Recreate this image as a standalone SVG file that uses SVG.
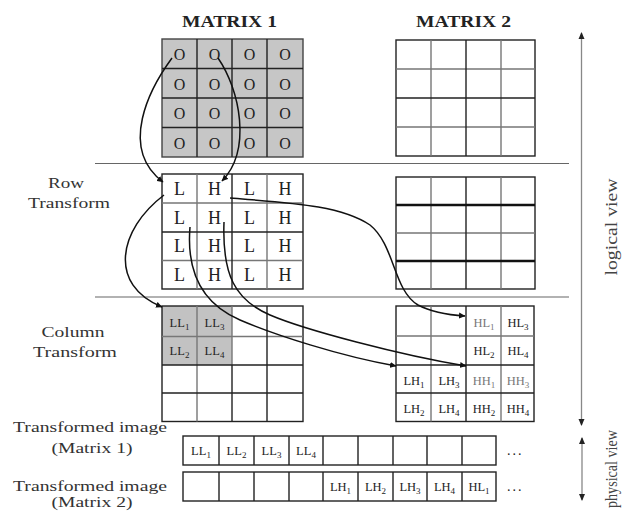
<svg xmlns="http://www.w3.org/2000/svg" width="625" height="511" viewBox="0 0 625 511">
<defs>
<marker id="ah" markerWidth="7" markerHeight="7" refX="6" refY="3.5" orient="auto" markerUnits="userSpaceOnUse"><path d="M0,0.5 L6.5,3.5 L0,6.5 z" fill="#111"/></marker>
<marker id="va" markerWidth="8" markerHeight="8" refX="6" refY="4" orient="auto-start-reverse" markerUnits="userSpaceOnUse"><path d="M0,1 L7,4 L0,7 z" fill="#222"/></marker>
<style>
text{font-family:"Liberation Serif","Times New Roman",serif;fill:#222}
.hd{font-weight:bold;font-size:16px}
.lb{font-size:15px;text-anchor:middle;fill:#333}
.big{font-size:18px;text-anchor:middle}
.o{font-size:16px;text-anchor:middle}
.sm{font-size:12.5px;text-anchor:middle}
.gr{fill:#777}
.g{fill:none;stroke:#222;stroke-width:1.4}
.gl{fill:none;stroke:#777;stroke-width:1.4}
.sep{stroke:#666;stroke-width:1.2}
.con{fill:none;stroke:#111;stroke-width:1.5;marker-end:url(#ah)}
.ax{stroke:#888;stroke-width:1.3;marker-start:url(#va);marker-end:url(#va)}
.rot{font-size:16px;fill:#444;text-anchor:middle}
</style>
</defs>
<rect width="625" height="511" fill="#fff"/>

<g id="headers">
<text class="hd" x="229.5" y="27" text-anchor="middle" textLength="95" lengthAdjust="spacingAndGlyphs">MATRIX 1</text>
<text class="hd" x="463.5" y="27" text-anchor="middle" textLength="95" lengthAdjust="spacingAndGlyphs">MATRIX 2</text>
</g>

<g id="separators">
<line class="sep" x1="95" y1="163.5" x2="569" y2="163.5"/>
<line class="sep" x1="95" y1="297" x2="569" y2="297"/>
</g>

<g id="matrix1-original">
<rect x="162" y="39" width="141" height="118" fill="#c6c6c6" stroke="#444" stroke-width="1.4"/>
<path class="g" d="M197,39V157M232,39V157M267,39V157M162,68.5H303M162,98H303M162,127.5H303"/>
<g class="o">
<text x="179.5" y="60">O</text><text x="214.5" y="60">O</text><text x="249.5" y="60">O</text><text x="285" y="60">O</text>
<text x="179.5" y="89.5">O</text><text x="214.5" y="89.5">O</text><text x="249.5" y="89.5">O</text><text x="285" y="89.5">O</text>
<text x="179.5" y="119">O</text><text x="214.5" y="119">O</text><text x="249.5" y="119">O</text><text x="285" y="119">O</text>
<text x="179.5" y="148.5">O</text><text x="214.5" y="148.5">O</text><text x="249.5" y="148.5">O</text><text x="285" y="148.5">O</text>
</g>
</g>

<g id="matrix2-original">
<rect class="g" x="396" y="40" width="139" height="116"/>
<path class="gl" d="M431,40V156M501,40V156M396,69H535M396,127H535"/>
<path class="g" d="M466,40V156M396,98H535"/>
</g>

<g id="row-transform-label">
<text class="lb" x="66" y="188" textLength="36" lengthAdjust="spacingAndGlyphs">Row</text>
<text class="lb" x="69" y="208" textLength="82" lengthAdjust="spacingAndGlyphs">Transform</text>
</g>

<g id="matrix1-row">
<rect class="g" x="162" y="174" width="141" height="115"/>
<path class="gl" d="M197,174V289M267,174V289M162,203H303M162,260.5H303"/>
<path class="g" d="M232,174V289M162,232H303"/>
<g class="big">
<text x="179.5" y="195">L</text><text x="214.5" y="195">H</text><text x="249.5" y="195">L</text><text x="285" y="195">H</text>
<text x="179.5" y="224">L</text><text x="214.5" y="224">H</text><text x="249.5" y="224">L</text><text x="285" y="224">H</text>
<text x="179.5" y="252">L</text><text x="214.5" y="252">H</text><text x="249.5" y="252">L</text><text x="285" y="252">H</text>
<text x="179.5" y="281">L</text><text x="214.5" y="281">H</text><text x="249.5" y="281">L</text><text x="285" y="281">H</text>
</g>
</g>

<g id="matrix2-row">
<rect class="g" x="396" y="177" width="139" height="112"/>
<path class="gl" d="M431,177V289M501,177V289M396,233H535"/>
<path class="g" d="M466,177V289"/>
<path d="M396,205H535M396,261H535" stroke="#111" stroke-width="2.4"/>
</g>

<g id="column-transform-label">
<text class="lb" x="73" y="337" textLength="63" lengthAdjust="spacingAndGlyphs">Column</text>
<text class="lb" x="75" y="357" textLength="84" lengthAdjust="spacingAndGlyphs">Transform</text>
</g>

<g id="matrix1-column">
<rect x="162" y="306" width="70" height="59" fill="#c2c2c2"/>
<rect class="g" x="162" y="306" width="141" height="115.5"/>
<path class="gl" d="M197,306V421.5M232,306V365M162,336.5H303"/>
<path class="g" d="M267,306V421.5M232,365V421.5M162,365H303M162,393H303"/>
<g class="sm">
<text x="179.5" y="327">LL<tspan font-size="9" dy="3">1</tspan></text>
<text x="214.5" y="327">LL<tspan font-size="9" dy="3">3</tspan></text>
<text x="179.5" y="355">LL<tspan font-size="9" dy="3">2</tspan></text>
<text x="214.5" y="355">LL<tspan font-size="9" dy="3">4</tspan></text>
</g>
</g>

<g id="matrix2-column">
<rect class="g" x="396" y="306" width="138" height="115.5"/>
<path class="gl" d="M431,306V421.5M501,306V421.5M396,336H534"/>
<path class="g" d="M466,306V421.5M396,365H534M396,393H534"/>
<g class="sm">
<text class="gr" x="484" y="327">HL<tspan font-size="9" dy="3">1</tspan></text>
<text x="518" y="327">HL<tspan font-size="9" dy="3">3</tspan></text>
<text x="484" y="355">HL<tspan font-size="9" dy="3">2</tspan></text>
<text x="518" y="355">HL<tspan font-size="9" dy="3">4</tspan></text>
<text x="414" y="385">LH<tspan font-size="9" dy="3">1</tspan></text>
<text x="449" y="385">LH<tspan font-size="9" dy="3">3</tspan></text>
<text class="gr" x="484" y="385">HH<tspan font-size="9" dy="3">1</tspan></text>
<text class="gr" x="518" y="385">HH<tspan font-size="9" dy="3">3</tspan></text>
<text x="414" y="413">LH<tspan font-size="9" dy="3">2</tspan></text>
<text x="449" y="413">LH<tspan font-size="9" dy="3">4</tspan></text>
<text x="484" y="413">HH<tspan font-size="9" dy="3">2</tspan></text>
<text x="518" y="413">HH<tspan font-size="9" dy="3">4</tspan></text>
</g>
</g>

<g id="transformed-image-1">
<text class="lb" x="90" y="432" textLength="154" lengthAdjust="spacingAndGlyphs">Transformed image</text>
<text class="lb" x="92" y="453" textLength="81" lengthAdjust="spacingAndGlyphs">(Matrix 1)</text>
<rect class="g" x="183" y="436" width="313" height="29"/>
<path class="g" d="M219,436V465M254,436V465M289,436V465M323,436V465M358,436V465M393,436V465M427,436V465M462,436V465"/>
<g class="sm">
<text x="201" y="455">LL<tspan font-size="9" dy="3">1</tspan></text>
<text x="236.5" y="455">LL<tspan font-size="9" dy="3">2</tspan></text>
<text x="271.5" y="455">LL<tspan font-size="9" dy="3">3</tspan></text>
<text x="306" y="455">LL<tspan font-size="9" dy="3">4</tspan></text>
</g>
<text x="507" y="455" font-size="14" letter-spacing="2">...</text>
</g>

<g id="transformed-image-2">
<text class="lb" x="90" y="491" textLength="154" lengthAdjust="spacingAndGlyphs">Transformed image</text>
<text class="lb" x="92" y="507" textLength="81" lengthAdjust="spacingAndGlyphs">(Matrix 2)</text>
<rect class="g" x="183" y="472" width="313" height="29"/>
<path class="g" d="M219,472V501M254,472V501M289,472V501M323,472V501M358,472V501M393,472V501M427,472V501M462,472V501"/>
<g class="sm">
<text x="340.5" y="491">LH<tspan font-size="9" dy="3">1</tspan></text>
<text x="375.5" y="491">LH<tspan font-size="9" dy="3">2</tspan></text>
<text x="410" y="491">LH<tspan font-size="9" dy="3">3</tspan></text>
<text x="444.5" y="491">LH<tspan font-size="9" dy="3">4</tspan></text>
<text x="479" y="491">HL<tspan font-size="9" dy="3">1</tspan></text>
</g>
<text x="507" y="491" font-size="14" letter-spacing="2">...</text>
</g>

<g id="view-axes">
<line class="ax" x1="581.5" y1="33" x2="581.5" y2="425"/>
<line class="ax" x1="582" y1="438" x2="582" y2="500"/>
<text class="rot" transform="translate(617,227) rotate(-90)" textLength="97" lengthAdjust="spacingAndGlyphs">logical view</text>
<text class="rot" transform="translate(617,469) rotate(-90)" textLength="78" lengthAdjust="spacingAndGlyphs">physical view</text>
</g>

<g id="connectors">
<path class="con" d="M172,58 C150,88 118,148 163,182"/>
<path class="con" d="M218,58 C240,90 252,150 222,181"/>
<path class="con" d="M164,195 C118,230 108,285 162,307"/>
<path class="con" d="M190,227 C186,275 205,305 240,320 S340,356 396,366"/>
<path class="con" d="M224,222 C222,275 235,300 270,315 S400,355 466,366"/>
<path class="con" d="M230,198 C290,203 340,205 370,225 C395,245 393,290 418,305 C433,313 450,315 465,316"/>
</g>
</svg>
